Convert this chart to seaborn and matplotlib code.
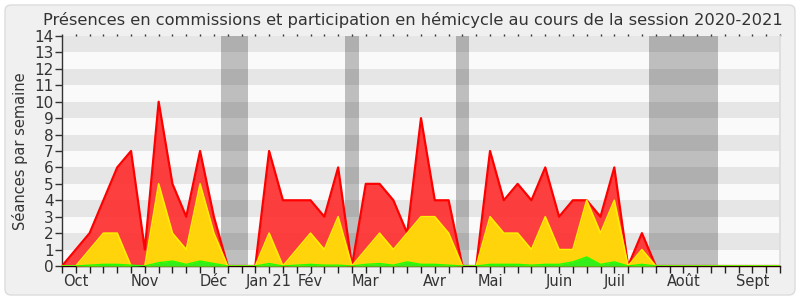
import matplotlib
matplotlib.use('Agg')
import matplotlib.pyplot as plt
import seaborn as sns
import pandas as pd
from matplotlib.patches import FancyBboxPatch

weeks = list(range(53))
red = [0, 1, 2, 4, 6, 7, 1, 10, 5, 3,
       7, 3, 0, 0, 0, 7, 4, 4, 4, 3,
       6, 0, 5, 5, 4, 2, 9, 4, 4, 0,
       0, 7, 4, 5, 4, 6, 3, 4, 4, 3,
       6, 0, 2, 0, 0, 0, 0, 0, 0, 0,
       0, 0, 0]
yellow = [0, 0, 1, 2, 2, 0, 0, 5, 2, 1,
          5, 2, 0, 0, 0, 2, 0, 1, 2, 1,
          3, 0, 1, 2, 1, 2, 3, 3, 2, 0,
          0, 3, 2, 2, 1, 3, 1, 1, 4, 2,
          4, 0, 1, 0, 0, 0, 0, 0, 0, 0,
          0, 0, 0]
green = [0, 0, 0.05, 0.1, 0.1, 0.05, 0, 0.2, 0.3, 0.1,
         0.3, 0.15, 0, 0, 0, 0.15, 0, 0.05, 0.1, 0.05,
         0.05, 0, 0.1, 0.15, 0.05, 0.25, 0.1, 0.1, 0.05, 0,
         0, 0.1, 0.1, 0.1, 0.05, 0.1, 0.1, 0.25, 0.55, 0.1,
         0.25, 0, 0.1, 0, 0, 0, 0, 0, 0, 0,
         0, 0, 0]
month_labels = ['Oct', 'Nov', 'Déc', 'Jan 21', 'Fév', 'Mar', 'Avr', 'Mai', 'Juin', 'Juil', 'Août', 'Sept']
month_pos = [1, 6, 11, 15, 18, 22, 27, 31, 36, 40, 45, 50]
holidays = [(11.5, 13.5), (20.5, 21.5), (28.5, 29.5), (42.5, 47.5)]
title = "Présences en commissions et participation en hémicycle au cours de la session 2020-2021"
ylabel = "Séances par semaine"

df = pd.DataFrame({'week': weeks, 'red': red, 'yellow': yellow, 'green': green})

sns.set_theme(style='white')
plt.rcParams['font.family'] = ['DejaVu Sans']

fig = plt.figure(figsize=(8, 3), dpi=100, facecolor='white')
fig.patches.append(FancyBboxPatch((0.05, 0.05), 7.9, 2.9,
                                  boxstyle='round,pad=0,rounding_size=0.06',
                                  transform=fig.dpi_scale_trans,
                                  facecolor='#f0f0f0', edgecolor='#dcdcdc', lw=1, zorder=-10))

ax = fig.add_axes([62 / 800, 34 / 300, 718 / 800, 230 / 300])
ax.set_facecolor('#fafafa')
ax.set_xlim(0, 52)
ax.set_ylim(0, 14)
for k in range(7):
    ax.axhspan(2 * k + 1, 2 * k + 2, color='#e6e6e6', lw=0, zorder=0)
for a, b in holidays:
    ax.axvspan(a, b, color='black', alpha=0.24, lw=0, zorder=1)

ax.fill_between(df['week'], df['red'], color='#ff2a2a', alpha=0.9, lw=0, zorder=2)
sns.lineplot(data=df, x='week', y='red', color='#ff0000', lw=1.6, ax=ax, zorder=3)
ax.fill_between(df['week'], df['yellow'], color='#ffd40a', lw=0, zorder=4)
sns.lineplot(data=df, x='week', y='yellow', color='#ffee00', lw=1.2, ax=ax, zorder=5)
ax.fill_between(df['week'], df['green'], color='#33ee1a', lw=0, zorder=6)
sns.lineplot(data=df, x='week', y='green', color='#22ff00', lw=1.0, ax=ax, zorder=7)

xlabels = [''] * len(weeks)
for p, lab in zip(month_pos, month_labels):
    xlabels[p] = lab
ax.set_xticks(weeks)
ax.set_xticklabels(xlabels)
ax.set_yticks(range(15))
ax.tick_params(axis='x', bottom=True, length=5, width=1, color='#222222', direction='out',
               labelsize=10.5, labelcolor='#333333', pad=1)
ax.tick_params(axis='y', left=True, length=5, width=1, color='#333333', direction='out',
               labelsize=11, labelcolor='#333333', pad=1)
ax.set_xlabel('')
ax.set_ylabel('')

top = ax.secondary_xaxis('top')
top.set_xticks(weeks)
top.tick_params(length=1.2, width=1, color='#333333', labeltop=False, direction='out')
top.spines['top'].set_visible(False)

ax.spines['top'].set_visible(False)
ax.spines['right'].set_color('#dddddd')
ax.spines['left'].set_color('#333333')
ax.spines['bottom'].set_color('#2a0000')
ax.spines['left'].set_linewidth(1)
ax.spines['bottom'].set_linewidth(1)

fig.text(413 / 800, 1 - 20 / 300, title, ha='center', va='center', fontsize=11.7, color='#333333')
fig.text(20 / 800, 1 - 151 / 300, ylabel, ha='center', va='center', rotation=90, fontsize=10.5, color='#333333')

fig.savefig('out.png', dpi=100, facecolor='white')
